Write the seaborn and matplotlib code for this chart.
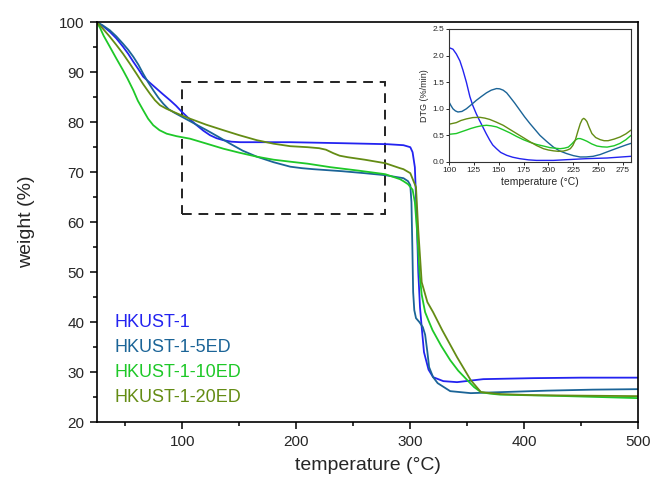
"""TGA curves of HKUST-1 samples with DTG inset."""

import matplotlib
matplotlib.use("Agg")
import matplotlib.pyplot as plt
from matplotlib.patches import Rectangle
from matplotlib.ticker import MultipleLocator
import pandas as pd
import seaborn as sns

SAMPLES = ["HKUST-1", "HKUST-1-5ED", "HKUST-1-10ED", "HKUST-1-20ED"]
COLORS = ["#2323f0", "#1b6497", "#1ec828", "#648c14"]

# main TGA curves (temperature in degC, weight in %)
t_hk = [25, 30, 36.4, 42, 48, 52.5, 57, 61.5, 65.7, 71.5, 77.5, 83, 89.2, 94.5, 99.5,
        106, 112.6, 118.5, 124.3, 130, 136, 143, 150.7, 170, 194.7, 240, 280, 294, 300,
        302, 304, 305.5, 307, 308.5, 310, 312, 316, 320, 329, 341, 364, 408, 450, 500]
w_hk = [100, 99.3, 98.1, 96.8, 95.1, 93.7, 92.1, 90.6, 89.1, 87.9, 86.7, 85.6, 84.4, 83.3,
        82.1, 80.7, 79.4, 78.3, 77.4, 76.8, 76.4, 76.1, 76, 76, 76, 75.8, 75.6, 75.4, 75,
        74, 71, 62, 50, 43, 39, 34, 30.5, 29, 28.2, 28, 28.6, 28.8, 28.9, 28.9]

t_5ed = [25, 30, 36.4, 42, 48, 52.5, 57, 61.5, 65.7, 70, 74.5, 79, 83.3, 88, 93, 99.5,
         110, 121.4, 131.5, 142, 153, 165.4, 180, 194.7, 205, 215, 240, 260, 278, 294,
         298, 300, 301, 301.8, 302.5, 303.5, 305, 308, 311, 313, 315, 316.5, 320, 324,
         335, 353, 379, 420, 460, 500]
w_5ed = [100, 99.4, 98.4, 97.2, 95.7, 94.5, 93.1, 91.5, 89.7, 88.0, 86.4, 84.9, 83.7,
         82.6, 81.9, 81.1, 79.8, 78.4, 77.1, 75.7, 74.3, 73.1, 72, 71.1, 70.8, 70.6, 70.2,
         69.8, 69.4, 68.8, 68.2, 67.4, 64, 55, 46, 42.4, 40.8, 40, 39, 37.5, 34, 31, 29,
         27.8, 26.2, 25.8, 26, 26.3, 26.5, 26.6]

t_10ed = [25, 28, 31, 36.4, 42, 48, 52, 57, 61, 65.7, 70, 74.5, 80, 86.3, 95, 106.8, 120,
          136, 150, 165.4, 180, 194.7, 210, 230, 255, 278, 291, 294, 298, 302, 304, 306,
          308, 310, 313, 316, 319.5, 327, 335, 342, 350, 356, 362, 370, 379, 400, 438,
          470, 500]
w_10ed = [100, 98.8, 97.3, 95.1, 92.8, 90.4, 88.7, 86.4, 84.3, 82.4, 80.7, 79.4, 78.4,
          77.7, 77.2, 76.7, 75.8, 74.7, 73.9, 73.1, 72.5, 72.1, 71.7, 71, 70.3, 69.6,
          68.6, 68.2, 67.6, 66.5, 64, 58, 50, 45.5, 42, 40.3, 38.4, 35.3, 32.4, 30.3,
          28.4, 27, 26, 25.7, 25.5, 25.4, 25.2, 25, 24.8]

t_20ed = [25, 30, 36.4, 42, 48, 54, 59.8, 65.7, 71.6, 76, 80.4, 86, 92, 99, 106.8, 121,
          136, 150, 165.4, 180, 194.7, 210, 220, 226, 232.5, 238, 245, 260, 278, 291, 294,
          300, 305, 307, 310, 315, 320, 328, 341, 353, 362, 380, 408, 450, 500]
w_20ed = [100, 98.8, 97.1, 95.5, 93.7, 91.7, 89.7, 87.6, 85.7, 84.4, 83.4, 82.7, 82.1,
          81.4, 80.7, 79.5, 78.4, 77.4, 76.4, 75.7, 75.2, 75.0, 74.8, 74.5, 73.8, 73.3,
          73, 72.5, 71.8, 70.8, 70.6, 69.8, 67, 58.4, 48, 44, 42, 38.4, 33, 28.4, 26,
          25.6, 25.4, 25.3, 25.2]

# DTG inset curves (temperature in degC, %/min)
dt_hk = [100, 104, 107.4, 111, 114, 117.5, 121, 124, 127.6, 131, 134, 137.5, 141, 144,
         147.8, 152, 158, 164, 171, 180, 188, 205, 220, 238.7, 258.9, 283]
dv_hk = [2.15, 2.12, 2.03, 1.9, 1.73, 1.5, 1.23, 1.06, 0.9, 0.77, 0.66, 0.53, 0.41, 0.32,
         0.25, 0.18, 0.126, 0.09, 0.063, 0.04, 0.03, 0.03, 0.045, 0.063, 0.075, 0.107]

dt_5ed = [100, 102, 104, 106.5, 109, 113, 117.5, 122, 127.6, 132.5, 137.7, 142.5, 147.8,
          151, 154.5, 158, 161, 166, 171, 176, 181.5, 186.5, 191.5, 198, 205, 211, 218.5,
          225, 232, 238, 245, 252, 259, 265.5, 272, 278, 283]
dv_5ed = [1.13, 1.06, 1.0, 0.96, 0.94, 0.95, 1.0, 1.07, 1.16, 1.23, 1.30, 1.35, 1.38,
          1.375, 1.35, 1.30, 1.23, 1.11, 0.98, 0.85, 0.72, 0.61, 0.50, 0.39, 0.28, 0.21,
          0.157, 0.12, 0.094, 0.095, 0.107, 0.14, 0.19, 0.235, 0.28, 0.32, 0.35]

dt_10ed = [100, 107.4, 112, 117.5, 122, 127.6, 132.5, 137.7, 142.5, 147.8, 154, 161, 168,
           174.7, 181.5, 188, 195, 201.5, 206.5, 211.7, 216, 220, 223.5, 227, 229.5, 232,
           235, 238.7, 243.5, 248.8, 254, 259, 266, 272, 278, 283]
dv_10ed = [0.52, 0.535, 0.565, 0.60, 0.63, 0.66, 0.68, 0.69, 0.68, 0.66, 0.61, 0.55, 0.48,
           0.42, 0.37, 0.33, 0.30, 0.27, 0.26, 0.25, 0.26, 0.28, 0.34, 0.41, 0.44, 0.44,
           0.42, 0.39, 0.34, 0.30, 0.285, 0.28, 0.305, 0.35, 0.42, 0.50]

dt_20ed = [100, 107.4, 112, 117.5, 124, 131, 136, 141, 147.5, 154.5, 161, 168, 175, 181.5,
           188, 195, 200, 205, 210, 215, 219, 222, 224.5, 227, 229.5, 232, 234, 235.5, 237,
           238.7, 241, 243.7, 247.5, 252, 256, 260, 266, 272, 278, 283]
dv_20ed = [0.71, 0.74, 0.78, 0.81, 0.835, 0.84, 0.825, 0.80, 0.75, 0.69, 0.615, 0.535,
           0.455, 0.38, 0.31, 0.25, 0.225, 0.21, 0.20, 0.205, 0.225, 0.25, 0.31, 0.41,
           0.57, 0.72, 0.80, 0.82, 0.80, 0.76, 0.65, 0.535, 0.46, 0.42, 0.40, 0.40, 0.43,
           0.47, 0.53, 0.60]


def long_frame(pairs, xname, yname):
    parts = []
    for name, (xs, ys) in zip(SAMPLES, pairs):
        parts.append(pd.DataFrame({xname: xs, yname: ys, "sample": name}))
    return pd.concat(parts, ignore_index=True)


tga = long_frame([(t_hk, w_hk), (t_5ed, w_5ed), (t_10ed, w_10ed), (t_20ed, w_20ed)],
                 "temperature", "weight")
dtg = long_frame([(dt_hk, dv_hk), (dt_5ed, dv_5ed), (dt_10ed, dv_10ed), (dt_20ed, dv_20ed)],
                 "temperature", "dtg")
palette = dict(zip(SAMPLES, COLORS))

sns.set_style("ticks")
plt.rcParams["font.family"] = ["Liberation Sans", "DejaVu Sans"]

fig = plt.figure(figsize=(6.54, 4.83), dpi=100)
ax = fig.add_axes([0.148, 0.126, 0.828, 0.828])
sns.lineplot(data=tga, x="temperature", y="weight", hue="sample", palette=palette,
             sort=False, estimator=None, legend=False, lw=1.3, ax=ax)
ax.set_xlim(25, 500)
ax.set_ylim(20, 100)
ax.xaxis.set_major_locator(MultipleLocator(100))
ax.xaxis.set_minor_locator(MultipleLocator(50))
ax.yaxis.set_major_locator(MultipleLocator(10))
ax.yaxis.set_minor_locator(MultipleLocator(5))
ax.tick_params(which="major", length=5, width=1.1, labelsize=11, color="black", pad=4)
ax.tick_params(which="minor", length=3, width=1.1, color="black")
for sp in ax.spines.values():
    sp.set_linewidth(1.2)
    sp.set_color("black")
ax.set_xlabel("temperature (°C)", fontsize=14, labelpad=6)
ax.set_ylabel("weight (%)", fontsize=14, labelpad=17)

# zoom region of the inset
ax.add_patch(Rectangle((100, 61.6), 178, 26.4, fill=False, ec="#222222", lw=1.4,
                       ls=(0, (5, 3.5))))

for i, (name, col) in enumerate(zip(SAMPLES, COLORS)):
    ax.text(0.033, 0.25 - i * 0.0625, name, color=col, fontsize=13,
            transform=ax.transAxes, va="center", ha="left")

ins = fig.add_axes([0.6865, 0.6646, 0.2783, 0.2754])
sns.lineplot(data=dtg, x="temperature", y="dtg", hue="sample", palette=palette,
             sort=False, estimator=None, legend=False, lw=1.0, ax=ins)
ins.set_xlim(100, 283)
ins.set_ylim(0, 2.5)
ins.xaxis.set_major_locator(MultipleLocator(25))
ins.yaxis.set_major_locator(MultipleLocator(0.5))
ins.tick_params(length=2, width=0.7, labelsize=6, pad=1.5)
for sp in ins.spines.values():
    sp.set_linewidth(0.8)
    sp.set_color("#333333")
ins.set_xlabel("temperature (°C)", fontsize=7.5, labelpad=2)
ins.set_ylabel("DTG (%/min)", fontsize=6.5, labelpad=2)

fig.savefig("out.png", dpi=100)
plt.close(fig)
